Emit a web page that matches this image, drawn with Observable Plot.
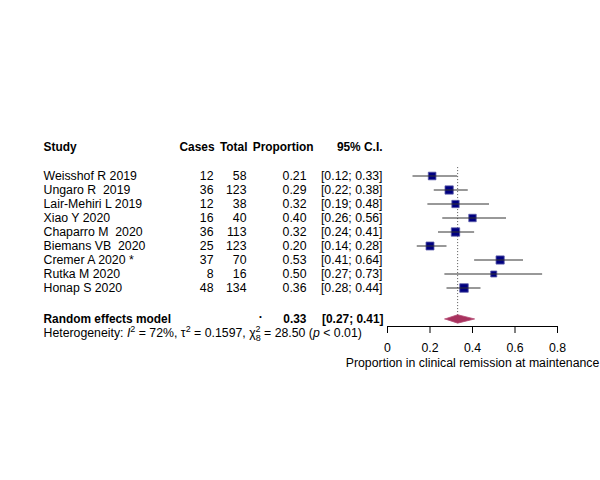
<!DOCTYPE html>
<html><head><meta charset="utf-8">
<script src="https://cdn.jsdelivr.net/npm/d3@7"></script>
<script src="https://cdn.jsdelivr.net/npm/@observablehq/plot@0.6"></script>
<style>
body{margin:0;background:#fff}
svg text{white-space:pre}
</style></head><body><div id="chart"></div>
<script>
// ---- data ----
const studies = ["Weisshof R 2019","Ungaro R  2019","Lair-Mehiri L 2019","Xiao Y 2020","Chaparro M  2020","Biemans VB  2020","Cremer A 2020 *","Rutka M 2020","Honap S 2020"];
const cases   = [12, 36, 12, 16, 36, 25, 37, 8, 48];
const totals  = [58, 123, 38, 40, 113, 123, 70, 16, 134];
const props   = [0.21, 0.29, 0.32, 0.40, 0.32, 0.20, 0.53, 0.50, 0.36];
const lowers  = [0.12, 0.22, 0.19, 0.26, 0.24, 0.14, 0.41, 0.27, 0.28];
const uppers  = [0.33, 0.38, 0.48, 0.56, 0.41, 0.28, 0.64, 0.73, 0.44];
const weights = [10.5, 12.3, 9.6, 10.0, 12.6, 11.4, 12.0, 6.5, 13.0];
const pooledEst = 0.33, pooledLower = 0.27, pooledUpper = 0.41;
const headers = ["Study","Cases","Total","Proportion","95% C.I."];
const xTicks = [0, 0.2, 0.4, 0.6, 0.8];
const xLabel = "Proportion in clinical remission at maintenance";
const hetText = "Heterogeneity: I2 = 72%, τ2 = 0.1597, χ28 = 28.50 (p < 0.01)";

// ---- layout ----
const ML = 387;
const FS = 12.3, FSB = 11.9;
const col = {study: 43, cases: 213, total: 246, prop: 306, ci: 382};
const rowHeader = -2.07, rowPooled = 10.21, rowHet = 11.2;
const font = "Liberation Sans, Arial, Helvetica, sans-serif";

const rows = studies.map((s, i) => ({
  study: s, cases: cases[i], total: totals[i], prop: props[i],
  lower: lowers[i], upper: uppers[i], w: weights[i], row: i,
  ci: `[${lowers[i].toFixed(2)}; ${uppers[i].toFixed(2)}]`
}));
const headerRows = [
  {t: headers[0], dx: col.study - ML, a: "start"},
  {t: headers[1], dx: 214 - ML, a: "end"},
  {t: headers[2], dx: 247 - ML, a: "end"},
  {t: headers[3], dx: 313 - ML, a: "end"},
  {t: headers[4], dx: col.ci - ML, a: "end"}
];
const dRow = 0.3;
const diamond = [
  {x: pooledLower, y: rowPooled},
  {x: pooledEst, y: rowPooled - dRow},
  {x: pooledUpper, y: rowPooled},
  {x: pooledEst, y: rowPooled + dRow},
  {x: pooledLower, y: rowPooled}
];

const txt = (data, opts) => Plot.text(data, {frameAnchor: "left", fill: "black", fontSize: FS, ...opts});

const chart = Plot.plot({
  width: 600, height: 480,
  marginLeft: ML, marginRight: 43, marginTop: 20, marginBottom: 154,
  style: {fontFamily: font, fontSize: FS + "px", background: "white", color: "black"},
  x: {domain: [0, 0.8], ticks: xTicks, tickFormat: d => d === 0 ? "0" : String(d), tickSize: 7, tickPadding: 10, label: null},
  y: {domain: [0, 8], range: [175.5, 287.5], axis: null},
  r: {domain: [0, 13], range: [0, 4.8]},
  marks: [
    // axis line
    Plot.ruleY([{y: 10.75}], {x1: () => 0, x2: () => 0.8, y: "y", stroke: "black"}),
    // pooled reference line
    Plot.ruleX([pooledEst], {x: d => d, y1: () => -0.6, y2: () => rowPooled, stroke: "#555", strokeDasharray: "1,2"}),
    // squares
    Plot.dot(rows, {x: "prop", y: "row", r: "w", symbol: "square", fill: "#000080", stroke: "#5a5aa8", strokeWidth: 0.8}),
    // CI lines
    Plot.ruleY(rows, {y: "row", x1: "lower", x2: "upper", stroke: "#333", strokeWidth: 1}),
    // diamond
    Plot.line(diamond, {x: "x", y: "y", fill: "#a8325e", stroke: "#b54a74", strokeWidth: 0.8}),
    // headers
    ...headerRows.map(h => txt([{row: rowHeader}], {y: "row", text: () => h.t, dx: h.dx, textAnchor: h.a, fontWeight: "bold", fontSize: FSB})),
    // table body
    txt(rows, {y: "row", text: "study", dx: col.study - ML, textAnchor: "start"}),
    txt(rows, {y: "row", text: "cases", dx: col.cases - ML, textAnchor: "end"}),
    txt(rows, {y: "row", text: "total", dx: col.total - ML, textAnchor: "end"}),
    txt(rows, {y: "row", text: d => d.prop.toFixed(2), dx: col.prop - ML, textAnchor: "end"}),
    txt(rows, {y: "row", text: "ci", dx: col.ci - ML, textAnchor: "end"}),
    // pooled row
    txt([{row: rowPooled}], {y: "row", text: () => "Random effects model", dx: col.study - ML, textAnchor: "start", fontWeight: "bold", fontSize: FSB}),
    txt([{row: rowPooled - 0.35}], {y: "row", text: () => ".", dx: 260 - ML, textAnchor: "middle", fontWeight: "bold"}),
    txt([{row: rowPooled}], {y: "row", text: () => pooledEst.toFixed(2), dx: col.prop - ML, textAnchor: "end", fontWeight: "bold", fontSize: FSB}),
    txt([{row: rowPooled}], {y: "row", text: () => `[${pooledLower.toFixed(2)}; ${pooledUpper.toFixed(2)}]`, dx: col.ci + 1 - ML, textAnchor: "end", fontWeight: "bold", fontSize: FSB}),
    // heterogeneity
    txt([{row: rowHet}], {y: "row", text: () => hetText, dx: col.study - ML, textAnchor: "start"}),
    // x label
    Plot.text([xLabel], {frameAnchor: "bottom", dy: 40, text: d => d, fontSize: FS, fill: "black"})
  ]
});
document.getElementById("chart").appendChild(chart);

// rich formatting for the heterogeneity line
d3.select(chart).selectAll("text").filter(function(){ return this.textContent === hetText; }).each(function(){
  const t = d3.select(this);
  t.text(null);
  const parts = [
    {s: "Heterogeneity: "},
    {s: "I", it: true},
    {s: "2", sup: true},
    {s: " = 72%, τ", back: true},
    {s: "2", sup: true},
    {s: " = 0.1597, χ", back: true},
    {s: "2", sup: true},
    {s: "8", sub: true},
    {s: " = 28.50 (", back2: true},
    {s: "p", it: true},
    {s: " < 0.01)"}
  ];
  for (const p of parts) {
    const ts = t.append("tspan").text(p.s);
    if (p.it) ts.attr("font-style", "italic");
    if (p.sup) ts.attr("font-size", 9).attr("dy", -5);
    if (p.back) ts.attr("dy", 5);
    if (p.sub) ts.attr("font-size", 9).attr("dy", 9).attr("dx", -5);
    if (p.back2) ts.attr("dy", -4);
  }
});
</script></body></html>
